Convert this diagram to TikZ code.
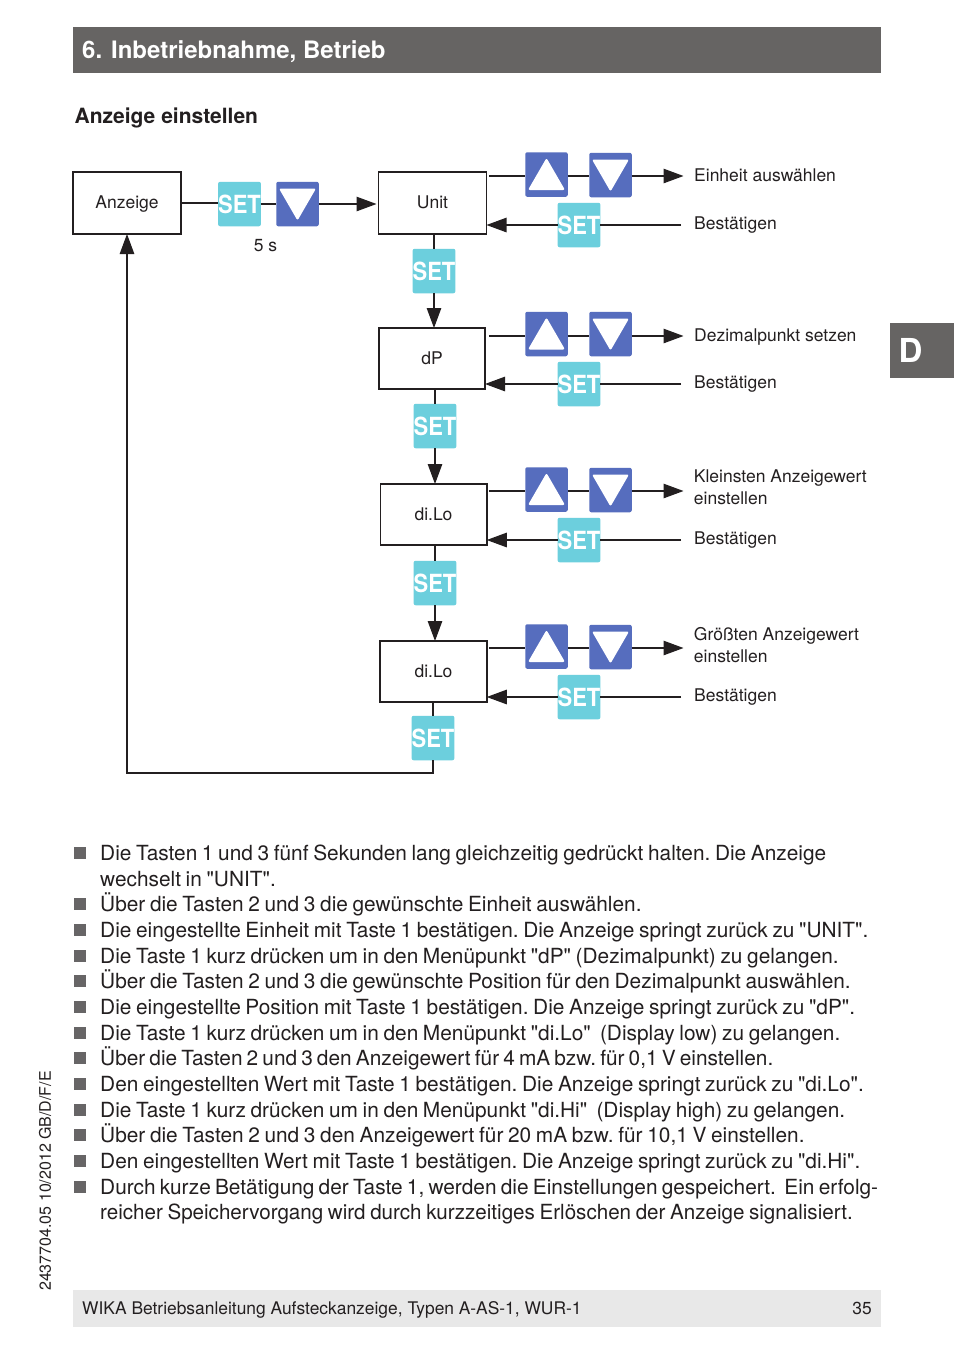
\documentclass[tikz,border=0pt]{standalone}
\usepackage{fontspec}
\usepackage{graphicx}
\setmainfont{TeX Gyre Heros}
\newfontfamily\bodyfont{TeX Gyre Heros}[WordSpace=0.8]
\usetikzlibrary{arrows.meta,backgrounds,calc}
\definecolor{band}{HTML}{666463}
\definecolor{foot}{HTML}{E8E8E8}
\definecolor{keyset}{HTML}{6CCFDD}
\definecolor{keyblue}{HTML}{566DBE}
\definecolor{ink}{HTML}{231F20}
\definecolor{bullet}{HTML}{676566}
\newcommand{\settxt}{\scalebox{0.88}[1]{SET}}
\tikzset{
  keybase/.style={rectangle,rounded corners=2pt,minimum width=42.5pt,minimum height=44.5pt,inner sep=0pt,outer sep=0pt},
  setkey/.style={keybase,fill=keyset,text=white,font=\fontsize{25}{25}\selectfont\bfseries},
  upkey/.style={keybase,fill=keyblue,path picture={\fill[white,shift={(path picture bounding box.center)}] (0,-16.5) -- (18.5,15.5) -- (-18.5,15.5) -- cycle;}},
  dnkey/.style={keybase,fill=keyblue,path picture={\fill[white,shift={(path picture bounding box.center)}] (-18.5,-15.5) -- (18.5,-15.5) -- (0,16.5) -- cycle;}},
  menubox/.style={rectangle,draw=ink,line width=1.1pt,fill=white,inner sep=0pt,outer sep=0pt,text=ink,text height=15pt,text depth=4pt,font=\fontsize{17.5}{21}\selectfont},
  conn/.style={draw=ink,line width=1.1pt},
  arr/.style={conn,-{Triangle[length=20pt,width=14.5pt]}},
  lab/.style={anchor=west,inner sep=0pt,text=ink,align=left,font=\fontsize{17.5}{22}\selectfont},
  bodytext/.style={anchor=base west,inner sep=0pt,text=ink,font=\bodyfont\fontsize{20.85}{25}\selectfont\frenchspacing},
  sq/.style={rectangle,fill=bullet,minimum size=12pt,inner sep=0pt,outer sep=0pt},
}
\begin{document}
\begin{tikzpicture}[x=1pt,y=-1pt]
\useasboundingbox (0,0) rectangle (954,1345);
\fill[white] (0,0) rectangle (954,1345);
% header
\node[fill=band,minimum width=808pt,minimum height=46pt,inner sep=0pt,anchor=north west] (hdr) at (73,27) {};
\node[anchor=base west,inner sep=0pt,text=white,font=\fontsize{24}{24}\selectfont\bfseries] (hdrt) at (82,58.5) {6. Inbetriebnahme, Betrieb};
\node[anchor=base west,inner sep=0pt,text=ink,font=\fontsize{21}{21}\selectfont\bfseries] (sub) at (74.5,123) {Anzeige einstellen};
\node[fill=band,minimum width=64pt,minimum height=55pt,inner sep=0pt,anchor=north west] (tab) at (890,323) {};
\node[anchor=west,inner sep=0pt,text=white,font=\fontsize{33}{33}\selectfont\bfseries] (tabt) at (898.5,350) {D};
% boxes
\node[menubox,minimum width=108pt,minimum height=62pt] (box0) at (127,203) {Anzeige};
\node[menubox,minimum width=108pt,minimum height=62pt] (box1) at (432.5,203) {Unit};
\node[menubox,line width=1.7pt,minimum width=106pt,minimum height=61pt] (box2) at (432,358.5) {dP};
\node[menubox,line width=1.5pt,minimum width=106.5pt,minimum height=61pt] (box3) at (433.5,514.5) {di.Lo};
\node[menubox,line width=1.6pt,minimum width=106.5pt,minimum height=61pt] (box4) at (433.5,671.5) {di.Lo};
% top row keys
\node[setkey] (s0) at (239.5,204) {\settxt};
\node[dnkey] (d0) at (297.5,204) {};
\node[inner sep=0pt,text=ink,font=\fontsize{17.5}{21}\selectfont] (five) at (265.5,246) {5 s};
% key rows
\node[upkey] (up1) at (546.5,174.5) {};
\node[dnkey] (dn1) at (610.5,175) {};
\node[setkey] (bk1) at (579,225) {\settxt};
\node[upkey] (up2) at (546.5,334) {};
\node[dnkey] (dn2) at (610.5,334) {};
\node[setkey] (bk2) at (579,384) {\settxt};
\node[upkey] (up3) at (546.5,489.5) {};
\node[dnkey] (dn3) at (610.5,490) {};
\node[setkey] (bk3) at (579,540) {\settxt};
\node[upkey] (up4) at (546.5,646.5) {};
\node[dnkey] (dn4) at (610.5,647) {};
\node[setkey] (bk4) at (579,697) {\settxt};
% vertical keys
\node[setkey] (v1) at (434,271) {\settxt};
\node[setkey] (v2) at (435,426) {\settxt};
\node[setkey] (v3) at (435,583) {\settxt};
\node[setkey] (v4) at (433,738) {\settxt};
% free ends
\coordinate (o1) at (489,176); \coordinate (e1) at (683.5,176); \coordinate (b1) at (681,225);
\coordinate (o2) at (489,336); \coordinate (e2) at (683.5,336); \coordinate (b2) at (681,384);
\coordinate (o3) at (489,491); \coordinate (e3) at (683.5,491); \coordinate (b3) at (681,540);
\coordinate (o4) at (489,648); \coordinate (e4) at (683.5,648); \coordinate (b4) at (681,697);
\coordinate (ret) at (433,773);
% connectors
\draw[conn] (s0.west |- box0.east) -- (box0.east);
\draw[conn] (s0.east) -- (d0.west);
\draw[arr,shorten >=2pt] (d0.east) -- (d0.east -| box1.west);
\foreach \i in {1,2,3,4}{
  \draw[conn] (o\i) -- (o\i -| up\i.west);
  \draw[conn] (o\i -| up\i.east) -- (o\i -| dn\i.west);
  \draw[arr] (o\i -| dn\i.east) -- (e\i);
  \draw[conn] (b\i) -- (bk\i.east);
  \draw[arr] (bk\i.west) -- (box\i.east |- bk\i);
}
\draw[conn] (box1.south -| v1) -- (v1.north);
\draw[arr] (v1.south) -- (v1.south |- box2.north);
\draw[conn] (box2.south -| v2) -- (v2.north);
\draw[arr] (v2.south) -- (v2.south |- box3.north);
\draw[conn] (box3.south -| v3) -- (v3.north);
\draw[arr] (v3.south) -- (v3.south |- box4.north);
\draw[conn] (box4.south -| v4) -- (v4.north);
\draw[arr] (v4.south) -- (ret) -- (ret -| box0.south) -- (box0.south);
% labels
\node[lab] (l1) at (694,175) {Einheit auswählen};
\node[lab] (l1b) at (694,225) {Bestätigen};
\node[lab] (l2) at (694,337) {Dezimalpunkt setzen};
\node[lab] (l2b) at (694,384) {Bestätigen};
\node[lab] (l3) at (693.7,487.5) {Kleinsten Anzeigewert\\einstellen};
\node[lab] (l3b) at (694,540) {Bestätigen};
\node[lab] (l4) at (693.7,645) {Größten Anzeigewert\\einstellen};
\node[lab] (l4b) at (694,697) {Bestätigen};
% bullets
\foreach \n/\y in {1/853,3/904,4/930,5/956,6/981,7/1007,8/1033,9/1058,10/1084,11/1110,12/1135,13/1161,14/1187}{
  \node[sq] (sq\n) at (80,\y) {};
}
\node[bodytext] (t1) at (100,860) {Die Tasten 1 und 3 fünf Sekunden lang gleichzeitig gedrückt halten. Die Anzeige};
\node[bodytext] (t2) at (100,886) {wechselt in "UNIT".};
\node[bodytext] (t3) at (100,911) {Über die Tasten 2 und 3 die gewünschte Einheit auswählen.};
\node[bodytext] (t4) at (100,937) {Die eingestellte Einheit mit Taste 1 bestätigen. Die Anzeige springt zurück zu "UNIT".};
\node[bodytext] (t5) at (100,963) {Die Taste 1 kurz drücken um in den Menüpunkt "dP" (Dezimalpunkt) zu gelangen.};
\node[bodytext] (t6) at (100,988) {Über die Tasten 2 und 3 die gewünschte Position für den Dezimalpunkt auswählen.};
\node[bodytext] (t7) at (100,1014) {Die eingestellte Position mit Taste 1 bestätigen. Die Anzeige springt zurück zu "dP".};
\node[bodytext] (t8) at (100,1040) {Die Taste 1 kurz drücken um in den Menüpunkt "di.Lo"\ \ (Display low) zu gelangen.};
\node[bodytext] (t9) at (100,1065) {\spaceskip=4.1pt Über die Tasten 2 und 3 den Anzeigewert für 4 mA bzw. für 0,1 V einstellen.};
\node[bodytext] (t10) at (100,1091) {Den eingestellten Wert mit Taste 1 bestätigen. Die Anzeige springt zurück zu "di.Lo".};
\node[bodytext] (t11) at (100,1117) {Die Taste 1 kurz drücken um in den Menüpunkt "di.Hi"\ \ (Display high) zu gelangen.};
\node[bodytext] (t12) at (100,1142) {Über die Tasten 2 und 3 den Anzeigewert für 20 mA bzw. für 10,1 V einstellen.};
\node[bodytext] (t13) at (100,1168) {Den eingestellten Wert mit Taste 1 bestätigen. Die Anzeige springt zurück zu "di.Hi".};
\node[bodytext] (t14) at (100,1194) {\spaceskip=4.2pt Durch kurze Betätigung der Taste 1, werden die Einstellungen gespeichert.\ \ Ein erfolg-};
\node[bodytext] (t15) at (100,1219) {\scalebox{0.988}[1]{reicher Speichervorgang wird durch kurzzeitiges Erlöschen der Anzeige signalisiert.}};
% footer
\node[fill=foot,minimum width=808pt,minimum height=37pt,inner sep=0pt,anchor=north west] (ft) at (73,1290) {};
\node[anchor=base west,inner sep=0pt,text=ink,font=\fontsize{17.4}{18}\selectfont] (ftl) at (82,1314) {WIKA Betriebsanleitung Aufsteckanzeige, Typen A-AS-1, WUR-1};
\node[anchor=base east,inner sep=0pt,text=ink,font=\fontsize{17.4}{18}\selectfont] (ftr) at (872,1314) {35};
\node[rotate=90,anchor=west,inner sep=0pt,text=ink,font=\fontsize{16}{16}\selectfont] (side) at (45,1291) {2437704.05 10/2012 GB/D/F/E};
\end{tikzpicture}
\end{document}
